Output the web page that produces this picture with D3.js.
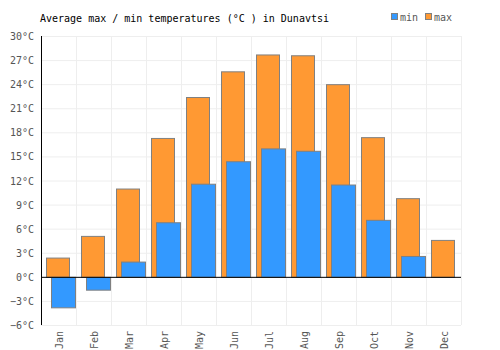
<!DOCTYPE html>
<html>
<head>
<meta charset="utf-8">
<script src="https://cdn.jsdelivr.net/npm/d3@7"></script>
<style>
  body { margin: 0; background: #fff; }
  text { font-family: "DejaVu Sans Mono", monospace; font-size: 10px; }
</style>
</head>
<body>
<div id="chart"></div>
<script>
var months = ["Jan","Feb","Mar","Apr","May","Jun","Jul","Aug","Sep","Oct","Nov","Dec"];
var maxTemps = [2.4, 5.1, 11.0, 17.3, 22.4, 25.6, 27.7, 27.6, 24.0, 17.4, 9.8, 4.6];
var minTemps = [-3.8, -1.6, 1.9, 6.8, 11.6, 14.4, 16.0, 15.7, 11.5, 7.1, 2.6, null];
var yTicks = [-6, -3, 0, 3, 6, 9, 12, 15, 18, 21, 24, 27, 30];

var width = 500, height = 350;
var margin = {top: 36, right: 39, bottom: 25, left: 41};

var svg = d3.select("#chart").append("svg")
    .attr("width", width)
    .attr("height", height);

var x = d3.scaleBand()
    .domain(months)
    .range([margin.left, width - margin.right]);

var y = d3.scaleLinear()
    .domain([-6, 30])
    .range([height - margin.bottom, margin.top]);

// grid
svg.append("g").selectAll("line.h")
    .data(yTicks)
  .enter().append("line")
    .attr("x1", margin.left).attr("x2", width - margin.right)
    .attr("y1", d => y(d) + 0.5).attr("y2", d => y(d) + 0.5)
    .style("stroke", "#eeeeee");

svg.append("g").selectAll("line.v")
    .data(months)
  .enter().append("line")
    .attr("x1", d => x(d) + x.bandwidth() + 0.5).attr("x2", d => x(d) + x.bandwidth() + 0.5)
    .attr("y1", margin.top).attr("y2", height - margin.bottom)
    .style("stroke", "#eeeeee");

// max bars
svg.append("g").selectAll("rect")
    .data(maxTemps)
  .enter().append("rect")
    .attr("x", (d, i) => x(months[i]) + 5.5)
    .attr("width", 23)
    .attr("y", d => y(Math.max(0, d)) + 0.5)
    .attr("height", d => Math.abs(y(d) - y(0)))
    .style("fill", "#ff9933")
    .style("stroke", "#808080")
    .style("stroke-width", 1);

// min bars
svg.append("g").selectAll("rect")
    .data(minTemps.map((v, i) => ({m: months[i], v: v})).filter(d => d.v !== null))
  .enter().append("rect")
    .attr("x", d => x(d.m) + 10.5)
    .attr("width", 24)
    .attr("y", d => y(Math.max(0, d.v)) + 0.5)
    .attr("height", d => Math.abs(y(d.v) - y(0)))
    .style("fill", "#3399ff")
    .style("stroke", "#808080")
    .style("stroke-width", 1);

// zero line and y axis line
svg.append("line")
    .attr("x1", margin.left).attr("x2", width - margin.right)
    .attr("y1", y(0) + 0.5).attr("y2", y(0) + 0.5)
    .style("stroke", "#000");
svg.append("line")
    .attr("x1", margin.left + 0.5).attr("x2", margin.left + 0.5)
    .attr("y1", margin.top).attr("y2", height - margin.bottom)
    .style("stroke", "#000");

// y tick labels
svg.append("g").selectAll("text")
    .data(yTicks)
  .enter().append("text")
    .attr("x", margin.left - 7)
    .attr("y", d => y(d) + 4)
    .attr("text-anchor", "end")
    .style("fill", "#555")
    .text(d => (d < 0 ? "\u2212" + Math.abs(d) : d) + "°C");

// x labels
svg.append("g").selectAll("text")
    .data(months)
  .enter().append("text")
    .attr("transform", d => "translate(" + (x(d) + x.bandwidth() / 2 + 4) + "," + (height - margin.bottom + 6) + ") rotate(-90)")
    .attr("text-anchor", "end")
    .style("fill", "#555")
    .text(d => d);

// title
svg.append("text")
    .attr("x", 40)
    .attr("y", 22)
    .style("fill", "#000")
    .text("Average max / min temperatures (°C ) in Dunavtsi");

// legend
var legend = [{name: "min", color: "#3399ff", x: 392}, {name: "max", color: "#ff9933", x: 426}];
var lg = svg.append("g").selectAll("g")
    .data(legend)
  .enter().append("g");
lg.append("rect")
    .attr("x", d => d.x - 0.5).attr("y", 13.5)
    .attr("width", 6).attr("height", 6)
    .style("fill", d => d.color)
    .style("stroke", "#808080");
lg.append("text")
    .attr("x", d => d.x + 8).attr("y", 21)
    .style("fill", "#555")
    .text(d => d.name);
</script>
</body>
</html>
